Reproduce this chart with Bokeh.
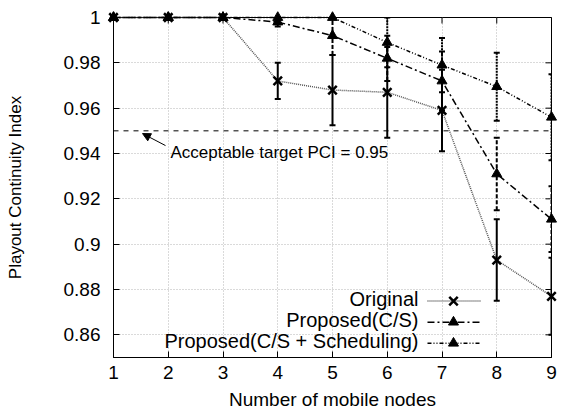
import math
from bokeh.plotting import figure
from bokeh.models import (FixedTicker, Whisker, TeeHead, ColumnDataSource,
                          Span, Arrow, NormalHead, Label)
from bokeh.embed import file_html
from bokeh.resources import INLINE

# ---- data ----
nodes = [1, 2, 3, 4, 5, 6, 7, 8, 9]
original = [1.0, 1.0, 1.0, 0.972, 0.968, 0.967, 0.959, 0.893, 0.877]
original_err = [0, 0, 0, 0.008, 0.0155, 0.020, 0.018, 0.018, 0.017]
cs = [1.0, 1.0, 1.0, 0.998, 0.992, 0.982, 0.972, 0.931, 0.911]
cs_err = [0, 0, 0, 0.002, 0.0085, 0.010, 0.013, 0.016, 0.0145]
sched = [1.0, 1.0, 1.0, 1.0, 1.0, 0.989, 0.979, 0.9695, 0.956]
sched_err = [0, 0, 0, 0, 0, 0.011, 0.012, 0.015, 0.019]

series_names = ["Original", "Proposed(C/S)", "Proposed(C/S + Scheduling)"]
x_ticks = [1, 2, 3, 4, 5, 6, 7, 8, 9]
y_ticks = [0.86, 0.88, 0.90, 0.92, 0.94, 0.96, 0.98, 1.0]
y_tick_labels = ["0.86", "0.88", "0.9", "0.92", "0.94", "0.96", "0.98", "1"]
target_pci = 0.95
target_text = "Acceptable target PCI = 0.95"

FONT = "Liberation Sans"
X_MIN, X_MAX, Y_MIN, Y_MAX = 1, 9, 0.85, 1.0

p = figure(width=572, height=419, x_range=(X_MIN, X_MAX), y_range=(Y_MIN, Y_MAX),
           output_backend="svg", toolbar_location=None,
           min_border_left=113, min_border_right=21, min_border_top=17, min_border_bottom=62)
p.background_fill_color = "white"
p.border_fill_color = "white"
p.outline_line_color = "black"
p.outline_line_width = 1

# axes
for ax in p.xaxis:
    ax.ticker = FixedTicker(ticks=x_ticks)
    ax.axis_label = "Number of mobile nodes"
    ax.axis_label_standoff = 7
    ax.major_label_standoff = 8
    ax.axis_label_text_font_size = "19px"
for ax in p.yaxis:
    ax.ticker = FixedTicker(ticks=y_ticks)
    ax.major_label_overrides = {t: l for t, l in zip(y_ticks, y_tick_labels)}
    ax.axis_label = "Playout Continuity Index"
    ax.axis_label_standoff = 36
    ax.major_label_standoff = 13
    ax.axis_label_text_font_size = "17px"
for ax in list(p.xaxis) + list(p.yaxis):
    ax.major_label_text_font = FONT
    ax.major_label_text_font_size = "19px"
    ax.major_label_text_color = "black"
    ax.axis_label_text_font = FONT
    ax.axis_label_text_font_style = "normal"
    ax.axis_label_text_color = "black"
    ax.major_tick_in = 6
    ax.major_tick_out = 0
    ax.minor_tick_line_color = None
    ax.axis_line_color = "black"
    ax.major_tick_line_color = "black"

# grid
p.xgrid.ticker = FixedTicker(ticks=x_ticks)
p.ygrid.ticker = FixedTicker(ticks=y_ticks)
p.grid.grid_line_color = "#b4b4b4"
p.grid.grid_line_dash = "1 2"
p.grid.grid_line_width = 1

# mirrored inward ticks on right and top (half of a dash marker, clipped by the frame)
p.scatter([X_MAX] * len(y_ticks), y_ticks, marker="dash", size=12, line_color="black",
          line_width=1)
p.scatter(x_ticks, [Y_MAX] * len(x_ticks), marker="dash", angle=math.pi / 2, size=12,
          line_color="black", line_width=1)

# target line + annotation
p.add_layout(Span(location=target_pci, dimension="width", line_color="black",
                  line_dash="5 5", line_width=1))
p.add_layout(Arrow(x_start=1.95, y_start=0.9435, x_end=1.53, y_end=0.9488,
                   line_color="black", line_width=1,
                   end=NormalHead(size=8, fill_color="black", line_color="black")))
p.add_layout(Label(x=2.04, y=0.9405, text=target_text, text_font=FONT,
                   text_font_size="17px", text_baseline="middle", text_color="black"))

styles = [
    dict(vals=original, err=original_err, color="#555555", dash="1 1", lw=1.5,
         marker="x", msize=12, bar_dash="solid"),
    dict(vals=cs, err=cs_err, color="black", dash="7 3 2 3", lw=1.5,
         marker="triangle", msize=10, bar_dash="4 2"),
    dict(vals=sched, err=sched_err, color="black", dash="4 2 1 2 1 2", lw=1.5,
         marker="triangle", msize=10, bar_dash="2 1"),
]

# lines
for s in styles:
    p.line(nodes, s["vals"], line_color=s["color"], line_dash=s["dash"],
           line_width=s["lw"], level="overlay")

# error bars
for s in styles:
    xs = [x for x, e in zip(nodes, s["err"]) if e > 0]
    up = [v + e for v, e in zip(s["vals"], s["err"]) if e > 0]
    lo = [v - e for v, e in zip(s["vals"], s["err"]) if e > 0]
    src = ColumnDataSource(dict(x=xs, up=up, lo=lo))
    w = Whisker(source=src, base="x", upper="up", lower="lo", dimension="height",
                line_color="black", line_width=2, line_dash=s["bar_dash"],
                upper_head=TeeHead(size=6, line_width=2, line_color="black"),
                lower_head=TeeHead(size=6, line_width=2, line_color="black"),
                level="overlay")
    p.add_layout(w)

# markers
for s in styles:
    if s["marker"] == "x":
        p.scatter(nodes, s["vals"], marker="x", size=s["msize"], line_color="black",
                  line_width=2.5, level="overlay")
    else:
        p.scatter(nodes, s["vals"], marker="triangle", size=s["msize"], line_color="black",
                  fill_color="black", level="overlay")

# manual legend (text right-aligned, sample to the right)
legend_text_x = 6.57
legend_line_x = [6.735, 7.703]
legend_marker_x = 7.21
legend_y = [0.8749, 0.8656, 0.8563]
for name, s, ly in zip(series_names, styles, legend_y):
    p.add_layout(Label(x=legend_text_x, y=ly, text=name, text_font=FONT,
                       text_font_size="20px", text_align="right",
                       text_baseline="middle", y_offset=2, text_color="black"))
    p.line(legend_line_x, [ly, ly], line_color=s["color"], line_dash=s["dash"],
           line_width=s["lw"], level="overlay")
    if s["marker"] == "x":
        p.scatter([legend_marker_x], [ly], marker="x", size=s["msize"], line_color="black",
                  line_width=2.5, level="overlay")
    else:
        p.scatter([legend_marker_x], [ly], marker="triangle", size=s["msize"],
                  line_color="black", fill_color="black", level="overlay")

open("out.html", "w").write(file_html(p, INLINE))
